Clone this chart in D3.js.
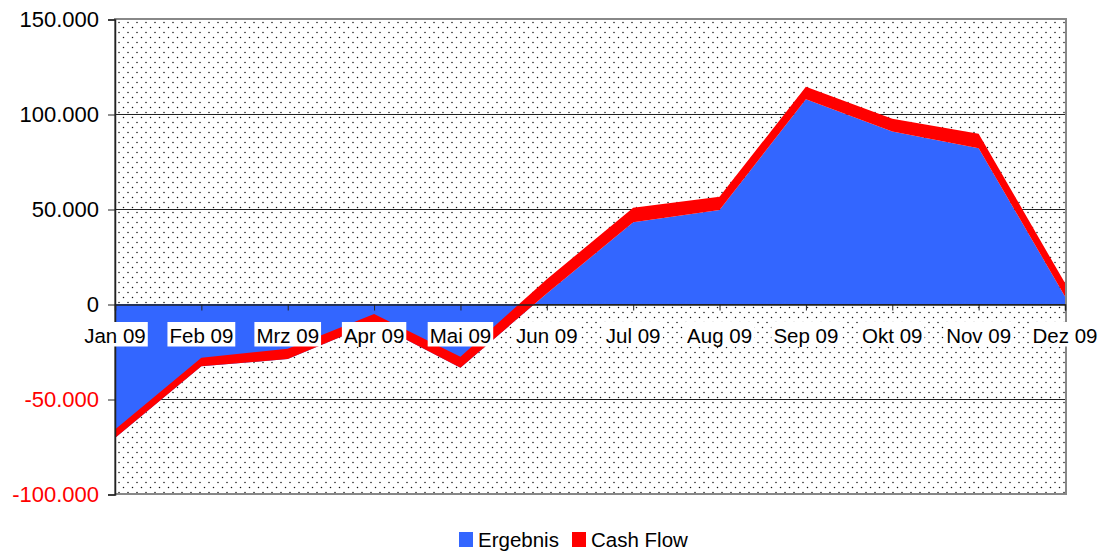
<!DOCTYPE html>
<html>
<head>
<meta charset="utf-8">
<script src="https://cdn.jsdelivr.net/npm/d3@7"></script>
<style>
  body { margin: 0; background: #fff; }
  svg { display: block; font-family: "Liberation Sans", Arial, sans-serif; }
</style>
</head>
<body>
<svg id="chart" width="1104" height="554"></svg>
<script>
// Monate (Kategorien)
const months = ["Jan 09", "Feb 09", "Mrz 09", "Apr 09", "Mai 09", "Jun 09",
                "Jul 09", "Aug 09", "Sep 09", "Okt 09", "Nov 09", "Dez 09"];

// Werte der Reihen (gestapelt)
const ergebnis = [-70500, -32800, -29000, -10000, -33500, 5500,
                  43000, 49500, 107800, 90800, 82000, 4000];
const cashFlow = [4500, 4500, 5500, 4700, 5800, 7500,
                  7700, 7000, 6500, 6700, 7600, 7000];

// Achsenbeschriftung
const yTicks = [-100000, -50000, 0, 50000, 100000, 150000];
const seriesNames = ["Ergebnis", "Cash Flow"];
const colors = ["#3366ff", "#ff0000"];

const svg = d3.select("#chart");

const plotLeft = 115, plotRight = 1065, plotTop = 19, plotBottom = 494;

const x = d3.scalePoint().domain(months).range([plotLeft, plotRight]);
const y = d3.scaleLinear().domain([-100000, 150000]).range([plotBottom, plotTop]);

const de = d3.formatLocale({ decimal: ",", thousands: ".", grouping: [3], currency: ["", " €"], minus: "-" });
const fmt = de.format(",d");

// Punktraster als Hintergrund
const defs = svg.append("defs");
const pat = defs.append("pattern")
  .attr("id", "dots")
  .attr("patternUnits", "userSpaceOnUse")
  .attr("width", 9)
  .attr("height", 10);
pat.append("rect").attr("width", 9).attr("height", 10).attr("fill", "#fff");
pat.append("circle").attr("cx", 2).attr("cy", 2.5).attr("r", 0.75).attr("fill", "#111");
pat.append("circle").attr("cx", 6.5).attr("cy", 7.5).attr("r", 0.75).attr("fill", "#111");

svg.append("rect")
  .attr("x", plotLeft).attr("y", plotTop)
  .attr("width", plotRight - plotLeft).attr("height", plotBottom - plotTop)
  .attr("fill", "url(#dots)");

// Gitternetzlinien
svg.append("g")
  .selectAll("line")
  .data(yTicks)
  .join("line")
  .attr("x1", plotLeft).attr("x2", plotRight)
  .attr("y1", d => y(d) + 0.5).attr("y2", d => y(d) + 0.5)
  .attr("stroke", "#222")
  .attr("stroke-width", 1);

// Gestapelte Flächen
const table = months.map((m, i) => ({ month: m, Ergebnis: ergebnis[i], "Cash Flow": cashFlow[i] }));
const stacked = d3.stack().keys(seriesNames).offset(d3.stackOffsetNone)(table);

const area = d3.area()
  .x(d => x(d.data.month))
  .y0(d => y(d[0]))
  .y1(d => y(d[1]));

svg.append("g")
  .selectAll("path")
  .data(stacked)
  .join("path")
  .attr("d", area)
  .attr("fill", (d, i) => colors[i]);

// Rahmen der Zeichnungsfläche
svg.append("rect")
  .attr("x", plotLeft).attr("y", plotTop)
  .attr("width", plotRight - plotLeft + 1).attr("height", plotBottom - plotTop)
  .attr("fill", "none")
  .attr("stroke", "#888")
  .attr("stroke-width", 2);

// Y-Achse
const yAxis = svg.append("g")
  .attr("transform", `translate(${plotLeft},0.5)`)
  .call(d3.axisLeft(y).tickValues(yTicks).tickFormat(fmt).tickSize(7).tickPadding(9));
yAxis.select(".domain").attr("stroke", "#222").attr("stroke-width", 1.5);
yAxis.selectAll(".tick line").attr("stroke", "#222");
yAxis.selectAll(".tick text")
  .attr("font-size", 22)
  .attr("font-family", "Liberation Sans, Arial, sans-serif")
  .attr("fill", d => d < 0 ? "#ff0000" : "#000");

// X-Achse auf der Nulllinie
const xAxis = svg.append("g")
  .attr("transform", `translate(0,${y(0) + 0.5})`)
  .call(d3.axisBottom(x).tickSize(6).tickFormat(""));
xAxis.select(".domain").attr("stroke", "#222").attr("stroke-width", 1.5);
xAxis.selectAll(".tick line").attr("stroke", "#222");

// Kategorienbeschriftung mit weißem Hintergrund
const labels = svg.append("g")
  .selectAll("g")
  .data(months)
  .join("g")
  .attr("transform", d => `translate(${x(d)},${y(0) + 38.5})`);
labels.append("text")
  .attr("text-anchor", "middle")
  .attr("font-size", 20.5)
  .attr("fill", "#000")
  .text(d => d);
labels.each(function () {
  const g = d3.select(this);
  const bb = g.select("text").node().getBBox();
  g.insert("rect", "text")
    .attr("x", bb.x - 2).attr("y", -20.5)
    .attr("width", bb.width + 4).attr("height", 24.5)
    .attr("fill", "#fff");
});

// Legende
const legendX = [459, 572];
const legend = svg.append("g")
  .selectAll("g")
  .data(seriesNames)
  .join("g")
  .attr("transform", (d, i) => `translate(${legendX[i]},532)`);
legend.append("rect")
  .attr("width", 14).attr("height", 15)
  .attr("fill", (d, i) => colors[i]);
legend.append("text")
  .attr("x", 19).attr("y", 15)
  .attr("font-size", 20.5)
  .attr("fill", "#000")
  .text(d => d);
</script>
</body>
</html>
